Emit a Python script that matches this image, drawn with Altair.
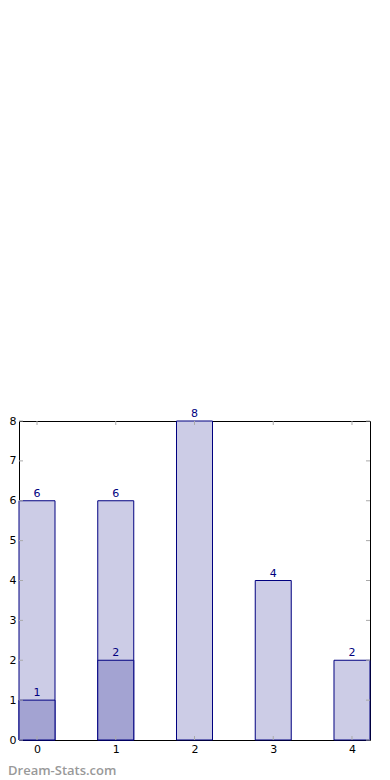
import altair as alt
import pandas as pd

categories = [0, 1, 2, 3, 4]
total_values = [6, 6, 8, 4, 2]
sub_categories = [0, 1]
sub_values = [1, 2]
x_ticks = [0, 1, 2, 3, 4]
y_ticks = [0, 1, 2, 3, 4, 5, 6, 7, 8]

W, H = 351, 319
FONT = "DejaVu Sans"
NAVY = "#000080"

df_total = pd.DataFrame({"cat": categories, "val": total_values})
df_sub = pd.DataFrame({"cat": sub_categories, "val": sub_values})
df_xt = pd.DataFrame({"cat": x_ticks})
df_yt = pd.DataFrame({"val": y_ticks})

xscale = alt.Scale(domain=[-0.2286, 4.2286], nice=False, zero=False, padding=0)
yscale = alt.Scale(domain=[0, 8], nice=False, zero=False, padding=0)

xaxis = alt.Axis(values=x_ticks, format="d", domain=False, ticks=False, grid=False,
                 labelPadding=3, labelFontSize=11, labelFont=FONT, labelColor="black",
                 labelOverlap=False, title=None)
yaxis = alt.Axis(values=y_ticks, format="d", domain=False, ticks=False, grid=False,
                 labelPadding=3, labelFontSize=11, labelFont=FONT, labelColor="black",
                 labelOverlap=False, title=None)

X = alt.X("cat:Q", scale=xscale, axis=xaxis)
Y = alt.Y("val:Q", scale=yscale, axis=yaxis)

bars_total = alt.Chart(df_total).mark_bar(size=36, color="#CCCCE6", stroke=NAVY,
                                          strokeWidth=1).encode(x=X, y=Y)
bars_sub = alt.Chart(df_sub).mark_bar(size=36, color="#A3A3D2", stroke=NAVY,
                                      strokeWidth=1).encode(x=X, y=Y)
text_total = alt.Chart(df_total).mark_text(dy=-7, fontSize=11, font=FONT,
                                           color=NAVY).encode(
    x=X, y=Y, text=alt.Text("val:Q", format="d"))
text_sub = alt.Chart(df_sub).mark_text(dy=-7, fontSize=11, font=FONT,
                                       color=NAVY).encode(
    x=X, y=Y, text=alt.Text("val:Q", format="d"))

TICK = "#aaaaaa"
tb = alt.Chart(df_xt).mark_rule(color=TICK, strokeWidth=1).encode(
    x=X, y=alt.value(H), y2=alt.value(H - 4))
tt = alt.Chart(df_xt).mark_rule(color=TICK, strokeWidth=1).encode(
    x=X, y=alt.value(0), y2=alt.value(4))
tl = alt.Chart(df_yt).mark_rule(color=TICK, strokeWidth=1).encode(
    y=Y, x=alt.value(0), x2=alt.value(4))
tr = alt.Chart(df_yt).mark_rule(color=TICK, strokeWidth=1).encode(
    y=Y, x=alt.value(W), x2=alt.value(W - 4))

watermark = alt.Chart(pd.DataFrame({"s": ["Dream-Stats.com"]})).mark_text(
    align="left", baseline="alphabetic", fontSize=13, fontWeight=600,
    font="Open Sans", color="#999999").encode(
    x=alt.value(-11), y=alt.value(354), text="s:N")

chart = alt.layer(bars_total, bars_sub, tb, tt, tl, tr, text_total, text_sub,
                  watermark).properties(
    width=W, height=H, autosize="none",
    padding={"left": 11, "top": 413, "right": 12, "bottom": 38},
).configure_view(stroke="black", strokeWidth=1)

chart.save("out.html", embed_options={"renderer": "svg", "actions": False})
